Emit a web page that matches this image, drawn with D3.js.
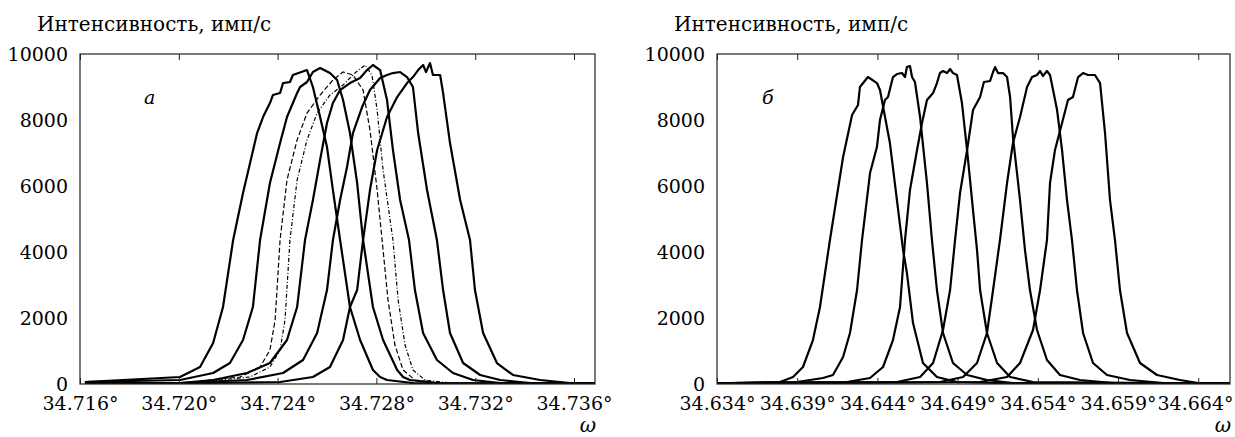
<!DOCTYPE html>
<html>
<head>
<meta charset="utf-8">
<script src="https://cdn.jsdelivr.net/npm/d3@7"></script>
<style>
  body { margin: 0; background: #fff; }
  text { font-family: "DejaVu Serif", "Liberation Serif", serif; fill: #000; }
</style>
</head>
<body>
<svg id="chart" width="1235" height="437"></svg>
<script>
// axis ticks
const yTicks = [0, 2000, 4000, 6000, 8000, 10000];
const ticksA = [34.716, 34.720, 34.724, 34.728, 34.732, 34.736];
const ticksB = [34.634, 34.639, 34.644, 34.649, 34.654, 34.659, 34.664];

// panel a: [omega, intensity]
const curveA1 = [[34.71620,61],[34.72005,212],[34.72086,515],[34.72139,1242],[34.72179,2333],[34.72220,4363],[34.72260,5787],[34.72317,7605],[34.72341,8090],[34.72369,8514],[34.72381,8757],[34.72410,8817],[34.72422,9120],[34.72450,9151],[34.72462,9363],[34.72519,9514],[34.72543,9000],[34.72572,8090],[34.72600,7181],[34.72624,5878],[34.72653,4363],[34.72693,2333],[34.72734,1333],[34.72786,424],[34.72815,212],[34.72843,121],[34.72948,30],[34.73685,10]];
const curveA2 = [[34.71620,61],[34.72005,121],[34.72139,333],[34.72207,636],[34.72260,1333],[34.72300,2333],[34.72329,4363],[34.72369,6090],[34.72410,7302],[34.72438,8090],[34.72479,8817],[34.72491,9000],[34.72519,9151],[34.72543,9454],[34.72572,9575],[34.72612,9423],[34.72641,9211],[34.72665,8605],[34.72693,7605],[34.72722,6090],[34.72746,4363],[34.72786,2333],[34.72827,1333],[34.72884,424],[34.72908,212],[34.72936,121],[34.73045,30],[34.73685,10]];
const curveA3 = [[34.71620,30],[34.72005,30],[34.72139,121],[34.72276,333],[34.72369,636],[34.72438,1333],[34.72479,2333],[34.72511,4363],[34.72543,5575],[34.72572,6787],[34.72600,7908],[34.72624,8514],[34.72653,8908],[34.72693,9120],[34.72734,9272],[34.72762,9514],[34.72786,9666],[34.72815,9514],[34.72843,8605],[34.72867,7090],[34.72896,5575],[34.72932,4363],[34.72956,2848],[34.72989,1545],[34.73045,727],[34.73110,333],[34.73191,121],[34.73301,30],[34.73685,10]];
const curveA4 = [[34.71620,20],[34.72005,30],[34.72276,121],[34.72422,333],[34.72503,727],[34.72560,1545],[34.72600,2848],[34.72624,4363],[34.72653,5575],[34.72681,6575],[34.72705,7605],[34.72742,8393],[34.72774,8908],[34.72815,9272],[34.72843,9363],[34.72867,9423],[34.72896,9454],[34.72924,9302],[34.72948,9000],[34.72969,7605],[34.73005,5878],[34.73045,4363],[34.73070,2848],[34.73098,1545],[34.73151,636],[34.73220,273],[34.73301,121],[34.73422,30],[34.73685,10]];
const curveA5 = [[34.71620,15],[34.72086,30],[34.72410,61],[34.72543,212],[34.72612,515],[34.72665,1333],[34.72693,2333],[34.72722,2848],[34.72746,4363],[34.72774,5878],[34.72803,7090],[34.72843,8090],[34.72884,8696],[34.72924,9120],[34.72948,9302],[34.72969,9514],[34.72989,9666],[34.73001,9454],[34.73017,9726],[34.73029,9363],[34.73058,9363],[34.73070,8817],[34.73098,7302],[34.73139,5575],[34.73179,4363],[34.73199,2848],[34.73232,1545],[34.73288,636],[34.73353,273],[34.73463,121],[34.73584,30],[34.73685,15]];
const dashedA1 = [[34.72086,91],[34.72248,212],[34.72329,515],[34.72369,1030],[34.72390,1939],[34.72410,4363],[34.72438,6181],[34.72479,7393],[34.72519,8211],[34.72572,8757],[34.72624,9211],[34.72665,9454],[34.72705,9363],[34.72746,8908],[34.72774,7696],[34.72803,5878],[34.72823,4363],[34.72847,2545],[34.72875,1182],[34.72908,424],[34.72956,121],[34.73058,30]];
const dashedA2 = [[34.72126,91],[34.72288,212],[34.72369,515],[34.72410,1030],[34.72430,1939],[34.72450,4363],[34.72479,6181],[34.72519,7393],[34.72560,8211],[34.72612,8757],[34.72665,9060],[34.72713,9423],[34.72754,9666],[34.72782,9363],[34.72803,8302],[34.72827,6484],[34.72867,4363],[34.72888,2545],[34.72916,1182],[34.72948,424],[34.72997,121],[34.73098,30]];

// panel б
const curveB1 = [[34.63400,20],[34.63793,61],[34.63874,212],[34.63936,515],[34.63998,1333],[34.64042,2333],[34.64104,4363],[34.64186,6878],[34.64242,8151],[34.64279,8454],[34.64291,9000],[34.64341,9302],[34.64397,9120],[34.64416,8908],[34.64478,7302],[34.64560,4060],[34.64584,3363],[34.64622,1848],[34.64684,636],[34.64771,212],[34.64896,61],[34.65164,30],[34.66598,10]];
const curveB2 = [[34.63400,20],[34.63899,61],[34.64061,182],[34.64123,273],[34.64186,818],[34.64229,1545],[34.64273,2848],[34.64304,4363],[34.64354,6393],[34.64397,7181],[34.64416,7999],[34.64447,8605],[34.64466,8696],[34.64497,9302],[34.64522,9393],[34.64553,9423],[34.64572,9302],[34.64584,9605],[34.64603,9635],[34.64616,9302],[34.64634,9151],[34.64666,8090],[34.64709,6090],[34.64740,4363],[34.64771,2848],[34.64809,1545],[34.64871,636],[34.64959,273],[34.65083,121],[34.65245,30],[34.66598,10]];
const curveB3 = [[34.63400,20],[34.64210,61],[34.64354,182],[34.64435,515],[34.64497,1333],[34.64541,2333],[34.64572,4363],[34.64603,5878],[34.64647,7090],[34.64678,7908],[34.64709,8605],[34.64747,8817],[34.64771,9120],[34.64790,9423],[34.64809,9484],[34.64834,9423],[34.64853,9545],[34.64871,9423],[34.64896,9363],[34.64927,8514],[34.64959,7090],[34.64996,5272],[34.65021,4060],[34.65040,2848],[34.65083,1545],[34.65146,636],[34.65227,212],[34.65370,61],[34.66598,10]];
const curveB4 = [[34.63400,20],[34.64522,61],[34.64666,212],[34.64747,636],[34.64809,1636],[34.64853,2848],[34.64884,4363],[34.64915,5787],[34.64959,7090],[34.64996,8302],[34.65040,8696],[34.65064,9151],[34.65102,9181],[34.65121,9454],[34.65133,9605],[34.65152,9423],[34.65183,9423],[34.65208,9302],[34.65227,8696],[34.65245,7484],[34.65289,5575],[34.65320,4060],[34.65351,2848],[34.65395,1636],[34.65457,727],[34.65538,273],[34.65663,121],[34.65869,30],[34.66598,10]];
const curveB5 = [[34.63400,15],[34.64790,61],[34.64934,212],[34.65021,636],[34.65083,1545],[34.65121,2848],[34.65164,4363],[34.65208,6090],[34.65245,7302],[34.65289,8090],[34.65333,9000],[34.65364,9302],[34.65395,9363],[34.65414,9484],[34.65432,9332],[34.65457,9484],[34.65476,9363],[34.65495,8908],[34.65520,8302],[34.65551,7090],[34.65582,5575],[34.65613,4363],[34.65644,2848],[34.65682,1545],[34.65744,636],[34.65831,273],[34.65975,121],[34.66180,30],[34.66598,10]];
const curveB6 = [[34.63400,15],[34.65040,61],[34.65208,212],[34.65289,636],[34.65370,1636],[34.65414,2848],[34.65457,4363],[34.65476,6090],[34.65507,7090],[34.65551,7908],[34.65588,8605],[34.65619,8696],[34.65651,9302],[34.65682,9423],[34.65713,9363],[34.65756,9363],[34.65788,9120],[34.65819,7605],[34.65850,5575],[34.65881,4363],[34.65912,2848],[34.65956,1545],[34.66037,636],[34.66143,273],[34.66286,121],[34.66399,30],[34.66598,15]];

const svg = d3.select("#chart");
const serif = "'DejaVu Serif', 'Liberation Serif', serif";
const pageWidth = 1235;

function draw_panel(p) {
    const x = d3.scaleLinear().domain(p.domain).range([p.left, p.right]);
    const y = d3.scaleLinear().domain([0, 10000]).range([p.bottom, p.top]);

    const clipId = "clip-" + p.id;
    svg.append("clipPath").attr("id", clipId)
        .append("rect")
        .attr("x", p.left).attr("y", p.top - 2)
        .attr("width", p.right - p.left).attr("height", p.bottom - p.top + 2);

    const line = d3.line().x(d => x(d[0])).y(d => y(d[1]));
    const g = svg.append("g").attr("clip-path", `url(#${clipId})`);

    p.solid.forEach(c => {
        g.append("path").datum(c).attr("d", line)
            .attr("fill", "none").attr("stroke", "#000")
            .attr("stroke-width", 2.2).attr("stroke-linejoin", "round");
    });
    p.dashed.forEach((c, i) => {
        g.append("path").datum(c).attr("d", line)
            .attr("fill", "none").attr("stroke", "#000")
            .attr("stroke-width", 1.2)
            .attr("stroke-dasharray", i == 0 ? "5,2.5" : "4,2,1,2");
    });

    // frame
    svg.append("rect")
        .attr("x", p.left).attr("y", p.top)
        .attr("width", p.right - p.left).attr("height", p.bottom - p.top)
        .attr("fill", "none").attr("stroke", "#222").attr("stroke-width", 1.2);

    const fmt = d => d.toFixed(3) + "°";
    const xb = svg.append("g")
        .attr("transform", `translate(0, ${p.bottom})`)
        .call(d3.axisBottom(x).tickValues(p.ticks).tickFormat(fmt).tickSize(-6).tickPadding(13));
    const xt = svg.append("g")
        .attr("transform", `translate(0, ${p.top})`)
        .call(d3.axisTop(x).tickValues(p.ticks).tickFormat("").tickSize(-6));
    const ya = svg.append("g")
        .attr("transform", `translate(${p.left}, 0)`)
        .call(d3.axisLeft(y).tickValues(yTicks).tickFormat(d3.format("d")).tickSize(0).tickPadding(12));

    [xb, xt, ya].forEach(a => {
        a.attr("font-family", null);
        a.select(".domain").remove();
        a.selectAll("line").attr("stroke", "#222");
        a.selectAll("text").style("font-family", serif).style("font-size", "19px");
    });

    // keep the last tick label inside the page
    xb.selectAll("text").each(function(d) {
        const box = this.getBBox();
        const over = x(d) + box.x + box.width - (pageWidth - 2);
        if (over > 0) d3.select(this).attr("dx", -over);
    });

    svg.append("text")
        .attr("x", p.left - 43).attr("y", 31)
        .style("font-family", serif).style("font-size", "20px")
        .text("Интенсивность, имп/с");

    svg.append("text")
        .attr("x", p.right - 7).attr("y", 432)
        .attr("text-anchor", "middle")
        .style("font-family", serif).style("font-size", "20px").style("font-style", "italic")
        .text("ω");

    svg.append("text")
        .attr("x", p.left + p.labelDx).attr("y", 104)
        .style("font-family", serif).style("font-size", "19px").style("font-style", "italic")
        .text(p.name);
}

draw_panel({
    id: "a", name: "a", domain: [34.716, 34.73685], ticks: ticksA,
    left: 80, right: 595, top: 54, bottom: 384, labelDx: 64,
    solid: [curveA1, curveA2, curveA3, curveA4, curveA5],
    dashed: [dashedA1, dashedA2]
});

draw_panel({
    id: "b", name: "б", domain: [34.634, 34.66598], ticks: ticksB,
    left: 717, right: 1230, top: 54, bottom: 384, labelDx: 45,
    solid: [curveB1, curveB2, curveB3, curveB4, curveB5, curveB6],
    dashed: []
});
</script>
</body>
</html>
